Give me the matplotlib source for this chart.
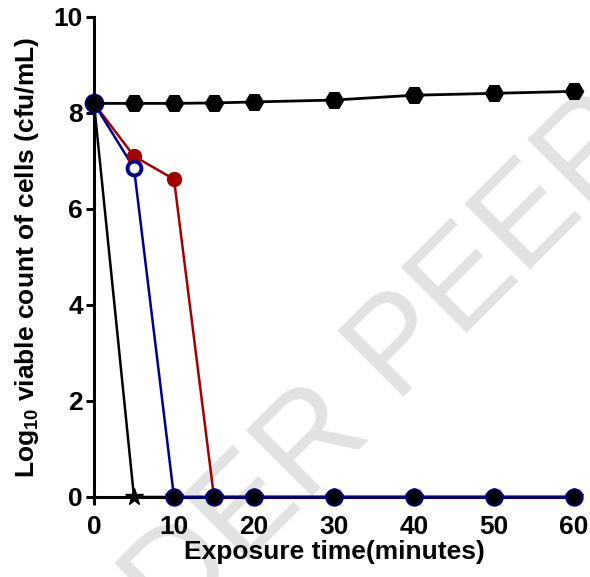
import matplotlib
matplotlib.use("Agg")
import matplotlib.pyplot as plt
import numpy as np

plt.rcParams['font.family'] = ['Liberation Sans', 'DejaVu Sans']
plt.rcParams['font.weight'] = 'bold'
plt.rcParams['mathtext.fontset'] = 'custom'
plt.rcParams['mathtext.bf'] = 'Liberation Sans:bold'
plt.rcParams['mathtext.rm'] = 'Liberation Sans:bold'

time = [0, 5, 10, 15, 20, 30, 40, 50, 60]
control = [8.2, 8.2, 8.2, 8.21, 8.23, 8.27, 8.37, 8.41, 8.45]
treat_black = [8.2, 0, 0, 0, 0, 0, 0, 0, 0]
treat_red = [8.2, 7.1, 6.62, 0, 0, 0, 0, 0, 0]
treat_blue = [8.2, 6.85, 0, 0, 0, 0, 0, 0, 0]

xticks = [0, 10, 20, 30, 40, 50, 60]
yticks = [0, 2, 4, 6, 8, 10]

W, H = 590, 577
fig = plt.figure(figsize=(W / 100, H / 100), dpi=100)
ax = fig.add_axes([94 / W, 1 - 497 / H, 480 / W, 480 / H])
ax.set_zorder(2)
ax.patch.set_alpha(0)

# watermark (behind the axes)
wm_kw = dict(rotation=45, rotation_mode='anchor', fontsize=97, color='#e2e2e2',
             fontweight='normal', family='Liberation Sans', va='baseline', zorder=0)
fig.text(396 / W, 1 - 404 / H, "PEER REVIEW", ha='left', **wm_kw)
fig.text(372 / W, 1 - 428 / H, "UNDER", ha='right', **wm_kw)

t = np.array(time)
cb = np.array(treat_black); cr = np.array(treat_red); cbl = np.array(treat_blue)
blue = '#000090'
red = '#a50000'

ax.plot(t, cb, color='black', lw=1.8, zorder=3, clip_on=False)
ax.plot(t[cb == 0], cb[cb == 0], ls='none', marker='*', ms=13, color='black', zorder=4, clip_on=False)

ax.plot(t, cr, color=red, lw=1.8, zorder=3, clip_on=False)
ax.plot(t[1:][cr[1:] > 0], cr[1:][cr[1:] > 0], ls='none', marker='o', ms=10, color=red, zorder=4, clip_on=False)

ax.plot(t, cbl, color=blue, lw=1.8, zorder=3, clip_on=False)
nz = (cbl > 0) & (t > 0)
ax.plot(t[nz], cbl[nz], ls='none', marker='o', ms=10, mfc='white', mec=blue, mew=2.8, zorder=5, clip_on=False)
zm = (cbl == 0) & (t >= 10)
ax.plot(t[zm], cbl[zm], ls='none', marker='o', ms=12, mfc='black', mec=blue, mew=1.2, zorder=5, clip_on=False)

ax.plot(t, control, color='black', lw=2, marker='H', ms=13, zorder=6, clip_on=False)
ax.plot(t[:1], cbl[:1], ls='none', marker='o', ms=13, mfc='black', mec=blue, mew=1.2, zorder=7, clip_on=False)

ax.set_xlim(0, 60)
ax.set_ylim(0, 10)
ax.set_xticks(xticks)
ax.set_yticks(yticks)
for s in ['top', 'right']:
    ax.spines[s].set_visible(False)
for s in ['left', 'bottom']:
    ax.spines[s].set_linewidth(2.2)
ax.tick_params(axis='both', width=2.2, length=6, labelsize=19, direction='out')
ax.tick_params(axis='x', pad=7)
ax.tick_params(axis='y', pad=2)
ax.set_xlabel("Exposure time(minutes)", fontsize=19, fontweight='bold', labelpad=1)
ax.set_ylabel(r"Log$_{\mathbf{10}}$ viable count of cells (cfu/mL)", fontsize=19, fontweight='bold', labelpad=9)

fig.savefig("out.png", dpi=100)
